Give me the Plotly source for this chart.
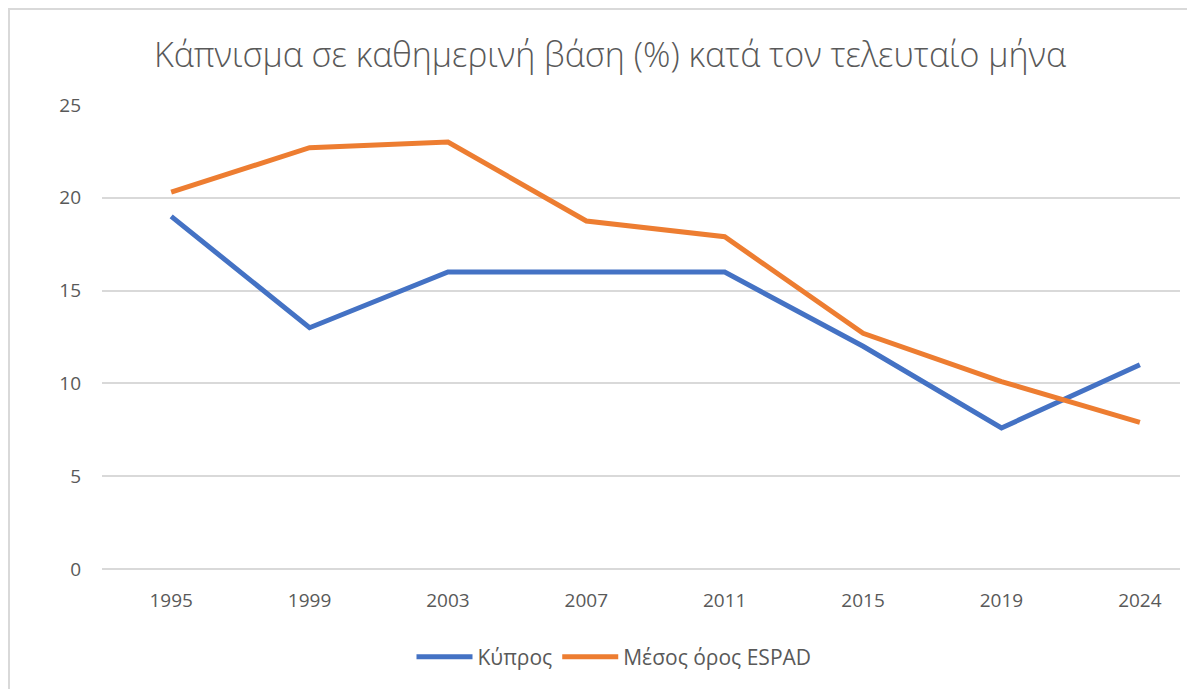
import plotly.graph_objects as go

years = ["1995", "1999", "2003", "2007", "2011", "2015", "2019", "2024"]
cyprus = [19, 13, 16, 16, 16, 12, 7.6, 11]
espad = [20.3, 22.7, 23, 18.75, 17.9, 12.7, 10.1, 7.9]
title_text = "Κάπνισμα σε καθημερινή βάση (%) κατά τον τελευταίο μήνα"
y_ticks = [0, 5, 10, 15, 20, 25]

font_family = "Open Sans, Noto Sans, sans-serif"
text_color = "#595959"

# page body has an 8px margin, so positions inside the figure are shifted by 8
L, R, T, B = 94, 1172, 97, 561
W, H = 1195, 689

fig = go.Figure()
fig.add_trace(go.Scatter(x=years, y=cyprus, mode="lines", name="Κύπρος",
                         line=dict(color="#4472C4", width=5)))
fig.add_trace(go.Scatter(x=years, y=espad, mode="lines", name="Μέσος όρος ESPAD",
                         line=dict(color="#ED7D31", width=5)))

fig.update_layout(
    width=W, height=H, autosize=False,
    margin=dict(l=L, r=W - R, t=T, b=H - B, autoexpand=False),
    paper_bgcolor="white", plot_bgcolor="white",
    font=dict(family=font_family, color=text_color),
    title=dict(text=title_text, x=(602 - L) / (R - L), xanchor="center", xref="paper",
               y=1 - 47 / H, yanchor="middle", yref="container",
               font=dict(size=34, color=text_color, family=font_family, weight=300)),
    legend=dict(orientation="h", x=(606 - L) / (R - L), xanchor="center", xref="paper",
                y=(B - 649) / (B - T), yanchor="middle", yref="paper",
                itemwidth=56,
                font=dict(size=21, color=text_color)),
    showlegend=True,
    xaxis=dict(type="category", range=[-0.5, 7.29], showgrid=False, showline=False,
               zeroline=False, ticks="", tickfont=dict(size=19, color=text_color),
               ticklabelstandoff=18, automargin=False),
    yaxis=dict(range=[0, 25], tickvals=y_ticks, showgrid=True, gridcolor="#d9d9d9",
               gridwidth=2, zeroline=True, zerolinecolor="#d9d9d9", zerolinewidth=2,
               showline=False, ticks="", automargin=False,
               tickfont=dict(size=19, color=text_color), ticklabelstandoff=20),
    shapes=[dict(type="rect", xref="paper", yref="paper",
                 x0=(1 - L) / (R - L), x1=1.2, y0=-0.6, y1=(B - 1) / (B - T),
                 line=dict(color="#d9d9d9", width=2), layer="below")],
)

fig.write_html("out.html")
